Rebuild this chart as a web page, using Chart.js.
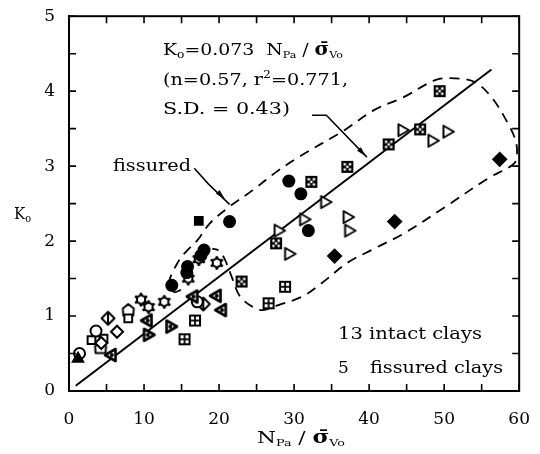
<!DOCTYPE html>
<html><head><meta charset="utf-8">
<script src="https://cdn.jsdelivr.net/npm/chart.js@4"></script>
<style>html,body{margin:0;padding:0;background:#fff}</style>
</head><body>
<canvas id="c" width="540" height="454"></canvas>
<script>
// ---- data ----
const xTickLabels = [0, 10, 20, 30, 40, 50, 60];
const yTickLabels = [0, 1, 2, 3, 4, 5];
const sqDotPts = [[49.4,4.0],[46.8,3.49],[42.6,3.29],[37.1,2.99],[32.3,2.79],[27.6,1.97],[23.0,1.46]];
const sqPlusPts = [[28.8,1.39],[26.6,1.17],[16.8,0.94],[15.4,0.69]];
const filledCirclePts = [[29.3,2.80],[30.9,2.63],[31.9,2.14],[21.4,2.26],[18.0,1.88],[17.6,1.81],[15.8,1.66],[15.7,1.58],[13.7,1.41]];
const filledSquarePts = [[17.3,2.27]];
const filledDiamondPts = [[57.4,3.09],[43.4,2.26],[35.4,1.80]];
const filledTrianglePts = [[1.2,0.43]];
const openTriRPts = [[44.5,3.48],[50.5,3.46],[48.5,3.34],[34.2,2.52],[31.4,2.29],[28.0,2.14],[29.4,1.83],[37.2,2.32],[37.4,2.14]];
const triRDotPts = [[13.6,0.86],[10.6,0.75]];
const triLDotPts = [[10.4,0.94],[19.6,1.27],[20.3,1.08],[5.6,0.48],[16.5,1.26]];
const gearPts = [[17.3,1.76],[15.9,1.50],[19.7,1.71],[12.7,1.19],[9.6,1.22],[10.6,1.12]];
const openCirclePts = [[17.1,1.19],[3.6,0.80],[1.4,0.50]];
const diamondBarPts = [[5.2,0.97],[17.9,1.16]];
const openDiamondPts = [[6.4,0.79],[4.3,0.64]];
const openSquarePts = [[7.9,0.97],[3.0,0.68],[4.6,0.70]];
const pentagonPts = [[7.9,1.08],[4.2,0.58]];
const regressionLine = [[0.9,0.07],[56.3,4.29]];
const envelope = [[14.9,1.35],[14.0,1.32],[13.3,1.44],[14.7,1.75],[15.8,1.88],[17.1,2.01],[18.8,2.24],[21.4,2.46],[24.5,2.68],[27.6,2.92],[30.6,3.12],[36.7,3.48],[40.7,3.75],[44.6,3.92],[48.9,4.15],[51.5,4.17],[54.1,4.12],[56.3,3.92],[58.5,3.57],[59.6,3.31],[59.6,3.08],[58.9,3.0],[55.9,2.84],[50.2,2.46],[44.6,2.10],[40.7,1.90],[37.1,1.71],[33.7,1.44],[31.1,1.26],[28.0,1.15],[25.8,1.08],[24.5,1.12],[22.8,1.26],[21.7,1.52],[20.8,1.75],[20.0,1.87],[19.1,1.90]];
const fissuredLeader = [[16.7,2.97],[18.6,2.76],[21.4,2.49]];
const fissuredArrowAt = [20.4,2.60];
const eqLeader = [[32.4,3.68],[34.3,3.68],[39.7,3.12]];
const eqArrowAt = [39.2,3.17];

const toXY = a => a.map(p => ({x:p[0], y:p[1]}));

// ---- marker images ----
function mk(draw, size){
  size = size || 18;
  const c = document.createElement('canvas'); c.width = c.height = size;
  const g = c.getContext('2d'); g.translate(size/2, size/2);
  g.lineWidth = 2; g.strokeStyle = '#000'; g.fillStyle = '#000'; g.lineJoin='round';
  draw(g); return c;
}
const imgSqDot = mk(g=>{ g.fillRect(-6,-6,12,12); g.fillStyle='#fff';
  [[-2.6,-2.6],[2.6,-2.6],[-2.6,2.6],[2.6,2.6],[0,0]].forEach(p=>{g.beginPath();g.arc(p[0],p[1],1.3,0,7);g.fill();}); });
const imgSqPlus = mk(g=>{ g.fillRect(-6,-6,12,12); g.fillStyle='#fff';
  [[-4,-4],[0.9,-4],[-4,0.9],[0.9,0.9]].forEach(p=>g.fillRect(p[0],p[1],3.1,3.1)); });
const triR = g=>{ g.beginPath(); g.moveTo(-4.5,-6); g.lineTo(6,0); g.lineTo(-4.5,6); g.closePath(); };
const imgTriR = mk(g=>{ triR(g); g.fillStyle='#fff'; g.fill(); g.stroke(); });
const imgTriRDot = mk(g=>{ triR(g); g.fillStyle='#fff'; g.fill(); g.lineWidth=2.6; g.stroke(); g.fillStyle='#000'; g.beginPath(); g.arc(-0.8,0,2,0,7); g.fill(); });
const imgTriLDot = mk(g=>{ g.beginPath(); g.moveTo(4.5,-6); g.lineTo(-6,0); g.lineTo(4.5,6); g.closePath(); g.fillStyle='#fff'; g.fill(); g.lineWidth=2.6; g.stroke(); g.fillStyle='#000'; g.beginPath(); g.arc(0.8,0,2,0,7); g.fill(); });
const imgGear = mk(g=>{ g.beginPath(); for(let i=0;i<6;i++){const a=Math.PI/6+i*Math.PI/3; g.lineTo(4.6*Math.cos(a),4.6*Math.sin(a));} g.closePath(); g.fillStyle='#fff'; g.fill(); g.stroke();
  g.fillStyle='#000'; for(let i=0;i<6;i++){const a=Math.PI/6+i*Math.PI/3; g.beginPath(); g.arc(5.6*Math.cos(a),5.6*Math.sin(a),1.5,0,7); g.fill();} });
const imgDiamondBar = mk(g=>{ g.beginPath(); g.moveTo(0,-6.5); g.lineTo(6.5,0); g.lineTo(0,6.5); g.lineTo(-6.5,0); g.closePath(); g.fillStyle='#fff'; g.fill(); g.stroke(); g.beginPath(); g.moveTo(0,-6.5); g.lineTo(0,6.5); g.stroke(); });
const imgPentagon = mk(g=>{ g.beginPath(); g.moveTo(0,-6); g.lineTo(5.5,-1.5); g.lineTo(5,5.5); g.lineTo(-5,5.5); g.lineTo(-5.5,-1.5); g.closePath(); g.fillStyle='#fff'; g.fill(); g.stroke(); });

function ds(data, style, extra){
  return Object.assign({data: toXY(data), pointStyle: style, showLine:false,
    pointRadius: 6, pointHoverRadius: 6, borderColor:'#000', backgroundColor:'#000', borderWidth:2}, extra||{});
}
const datasets = [
  ds(filledCirclePts, 'circle', {pointRadius:5.5}),
  ds(filledSquarePts, 'rect', {pointRadius:5.5}),
  ds(filledDiamondPts, 'rectRot', {pointRadius:6.5}),
  ds(filledTrianglePts, 'triangle', {pointRadius:6}),
  ds(sqDotPts, imgSqDot),
  ds(sqPlusPts, imgSqPlus),
  ds(openTriRPts, imgTriR),
  ds(triRDotPts, imgTriRDot),
  ds(triLDotPts, imgTriLDot),
  ds(gearPts, imgGear),
  ds(openCirclePts, 'circle', {pointRadius:5.5, backgroundColor:'#fff'}),
  ds(diamondBarPts, imgDiamondBar),
  ds(openDiamondPts, 'rectRot', {pointRadius:6, backgroundColor:'#fff'}),
  ds(openSquarePts, 'rect', {pointRadius:5.5, backgroundColor:'#fff'}),
  ds(pentagonPts, imgPentagon),
  {data: toXY(regressionLine), showLine:true, pointRadius:0, borderColor:'#000', borderWidth:2, tension:0},
  {data: toXY(envelope), showLine:true, pointRadius:0, borderColor:'#000', borderWidth:1.8, borderDash:[10,7], tension:0.35}
];

const FONT = '"DejaVu Serif", "Liberation Serif", serif';
function richWidth(ctx, parts){
  let w=0; parts.forEach(p=>{ ctx.font = (p[3]||'') + ' ' + p[1] + 'px ' + FONT; w += ctx.measureText(p[0]).width; }); return w;
}
// draw mixed-size text, stretched horizontally to the width it has in the reference
function rich(ctx, x, y, parts, target){
  const nat = richWidth(ctx, parts);
  const sx = target ? target/nat : 1;
  ctx.save(); ctx.translate(x, y); ctx.scale(sx, 1);
  let cx = 0;
  parts.forEach(p=>{ ctx.font = (p[3]||'') + ' ' + p[1] + 'px ' + FONT; ctx.fillText(p[0], cx, p[2]||0); cx += ctx.measureText(p[0]).width; });
  ctx.restore();
}

const decor = {
  id:'decor',
  afterDraw(chart){
    const ctx = chart.ctx, a = chart.chartArea, xs = chart.scales.x, ys = chart.scales.y;
    ctx.save();
    ctx.strokeStyle='#000'; ctx.fillStyle='#000';
    ctx.lineWidth = 2; ctx.strokeRect(a.left, a.top, a.right-a.left, a.bottom-a.top);
    ctx.lineWidth = 1.6;
    xs.ticks.forEach(t=>{ const px = xs.getPixelForValue(t.value);
      ctx.beginPath(); ctx.moveTo(px,a.bottom); ctx.lineTo(px,a.bottom-7); ctx.moveTo(px,a.top); ctx.lineTo(px,a.top+7); ctx.stroke(); });
    ys.ticks.forEach(t=>{ const py = ys.getPixelForValue(t.value);
      ctx.beginPath(); ctx.moveTo(a.left,py); ctx.lineTo(a.left+7,py); ctx.moveTo(a.right,py); ctx.lineTo(a.right-7,py); ctx.stroke(); });
    function leader(pts, at){
      ctx.lineWidth = 1.5; ctx.beginPath();
      pts.forEach((p,i)=>{ const X=xs.getPixelForValue(p[0]), Y=ys.getPixelForValue(p[1]); i?ctx.lineTo(X,Y):ctx.moveTo(X,Y); });
      ctx.stroke();
      const n = pts.length, p0 = pts[n-2], p1 = pts[n-1];
      const dx = xs.getPixelForValue(p1[0])-xs.getPixelForValue(p0[0]), dy = ys.getPixelForValue(p1[1])-ys.getPixelForValue(p0[1]);
      const ang = Math.atan2(dy,dx), X = xs.getPixelForValue(at[0]), Y = ys.getPixelForValue(at[1]);
      ctx.save(); ctx.translate(X,Y); ctx.rotate(ang); ctx.beginPath(); ctx.moveTo(4,0); ctx.lineTo(-6,-2.6); ctx.lineTo(-6,2.6); ctx.closePath(); ctx.fill(); ctx.restore();
    }
    leader(fissuredLeader, fissuredArrowAt);
    leader(eqLeader, eqArrowAt);
    ctx.textBaseline = 'alphabetic'; ctx.textAlign = 'left';
    rich(ctx, 163, 55, [['K',17],['o',11,3],['=0.073  N',17],['Pa',10,3],[' / ',17],['\u03C3\u0304',18,0,'bold'],['Vo',10,3]], 180);
    rich(ctx, 163, 85, [['(n=0.57, r',17],['2',11,-7],['=0.771,',17]], 185);
    rich(ctx, 163, 114, [['S.D. = 0.43)',17]], 127);
    rich(ctx, 113, 171, [['fissured',17]], 78);
    rich(ctx, 338, 339, [['13 intact clays',17]], 144);
    rich(ctx, 338, 373, [['5',17]]);
    rich(ctx, 370, 373, [['fissured clays',17]], 133);
    rich(ctx, 14, 219, [['K',17],['o',11,3]], 17);
    const xt = [['N',17],['Pa',10,3],[' / ',17],['\u03C3\u0304',18,0,'bold'],['Vo',10,3]];
    rich(ctx, 257, 443, xt, 88);
    ctx.restore();
  }
};

new Chart(document.getElementById('c'), {
  type:'scatter',
  data:{datasets},
  options:{
    responsive:false, animation:false, devicePixelRatio:1,
    layout:{padding:{top:16, right:12, left:0, bottom:0}},
    plugins:{legend:{display:false}, tooltip:{enabled:false}},
    scales:{
      x:{type:'linear', min:0, max:60,
        ticks:{stepSize:5, color:'#000', padding:10, maxRotation:0, autoSkip:false,
          font:{family:FONT, size:17},
          callback:v => xTickLabels.includes(v) ? String(v) : ''},
        grid:{display:false}, border:{display:true, color:'#000', width:2},
        afterFit:s=>{ s.height = 63; }},
      y:{type:'linear', min:0, max:5,
        ticks:{stepSize:0.5, color:'#000', padding:6, autoSkip:false,
          font:{family:FONT, size:17},
          callback:v => yTickLabels.includes(v) ? String(v) : ''},
        grid:{display:false}, border:{display:true, color:'#000', width:2},
        afterFit:s=>{ s.width = 69; }}
    }
  },
  plugins:[decor]
});
</script>
</body></html>
